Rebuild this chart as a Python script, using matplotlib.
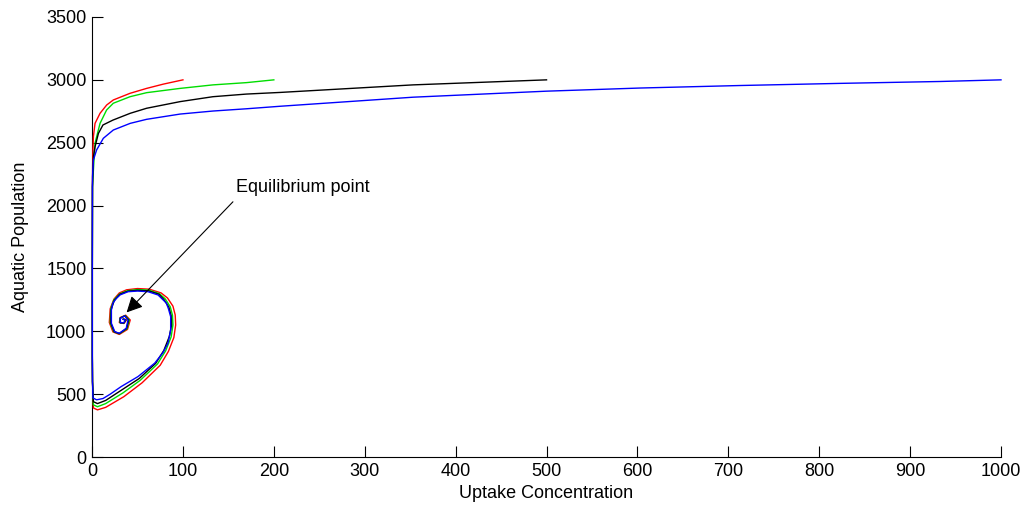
import numpy as np
import matplotlib
matplotlib.use('Agg')
import matplotlib.pyplot as plt

plt.rcParams['font.family'] = ['Liberation Sans', 'DejaVu Sans']

# trajectories, one per starting uptake value
red_x = [100, 78.4, 60, 41.8, 23.4, 16.1, 8.8, 3.3, 1.5, 0.8, 0.4, 0.3, 0.3, 0.5,
         1.5, 6, 15, 35, 55, 75, 84, 90, 92, 91.5, 89, 83, 76, 63, 50, 38, 30, 24, 20, 19, 23,
         30, 39, 42, 37, 31, 30, 35, 38, 35]
red_y = [3000, 2966, 2932, 2893, 2840, 2800, 2734, 2654, 2550, 2400, 2150, 1500, 800, 600,
         390, 375, 395, 480, 590, 730, 840, 950, 1050, 1130, 1200, 1265, 1305, 1335, 1340, 1330, 1305, 1255, 1180, 1070, 995,
         975, 1015, 1090, 1128, 1110, 1070, 1062, 1090, 1100]

green_x = [200, 170, 133, 96.8, 60, 41.8, 23.4, 16, 8.8, 3.3, 1.5, 0.5, 0.3, 0.3, 0.5,
           1.5, 6, 15, 34, 53, 72, 81, 87, 89, 88.5, 86, 80.5, 74, 62, 50, 39, 30.5, 24, 20.5, 20, 24,
           30, 38.5, 41, 36.5, 31, 30.7, 35, 37.3, 34.5]
green_y = [3000, 2978, 2960, 2932, 2898, 2866, 2814, 2760, 2654, 2497, 2283, 2150, 1500, 800, 600,
           415, 400, 425, 510, 610, 740, 845, 955, 1050, 1128, 1196, 1258, 1300, 1328, 1332, 1323, 1298, 1250, 1176, 1066, 996,
           980, 1020, 1090, 1125, 1106, 1069, 1065, 1090, 1097]

black_x = [500, 353, 207, 170, 133, 97, 60, 42, 23, 12, 7, 3.3, 1.5, 0.5, 0.3, 0.3, 0.5,
           1.5, 6, 15, 33, 52, 70, 79, 85, 87.5, 87, 84.5, 79, 73.5, 62, 50, 39.5, 30.5, 24.5, 21, 20.7, 24.5,
           30, 38, 40.3, 36.2, 31, 31, 35, 37, 34.2]
black_y = [3000, 2960, 2900, 2887, 2866, 2827, 2774, 2734, 2680, 2641, 2574, 2468, 2390, 2150, 1500, 800, 600,
           440, 425, 450, 535, 625, 745, 848, 958, 1050, 1124, 1192, 1253, 1295, 1322, 1326, 1319, 1294, 1246, 1173, 1064, 996,
           982, 1022, 1090, 1123, 1105, 1068, 1066, 1090, 1096]

blue_x = [1000, 933, 823, 713, 603, 500, 353, 207, 170, 133, 97, 60, 42, 23.4, 12.4, 5, 1.5, 0.5,
          0.4, 0.3, 0.3, 0.5, 1, 5, 12, 20, 32, 50.6, 69, 78, 83.6, 86.5, 86.5, 84, 81.7, 72.6, 61.6, 50,
          39.6, 31, 26.8, 23, 21.3, 21.3, 25, 30, 37.6, 39.6, 35.9, 31, 31.4, 35, 36.6, 34]
blue_y = [3000, 2987, 2972, 2955, 2935, 2910, 2862, 2790, 2770, 2752, 2728, 2686, 2654, 2601, 2535, 2442, 2363, 2230,
          2150, 1500, 800, 600, 470, 455, 465, 500, 560, 640, 747, 830, 907, 1010, 1116, 1180, 1225, 1289, 1315, 1320,
          1315, 1290, 1262, 1225, 1170, 1063, 997, 984, 1024, 1090, 1122, 1103, 1068, 1068, 1090, 1095]

curves = [(red_x, red_y, 'r'), (green_x, green_y, '#00dd00'),
          (black_x, black_y, 'k'), (blue_x, blue_y, 'b')]

fig = plt.figure(figsize=(10.25, 5.15), dpi=100)
ax = fig.add_axes([0.0898, 0.1126, 0.8868, 0.8544])

for xs, ys, c in curves:
    ax.plot(xs, ys, color=c, lw=1.0, clip_on=False, zorder=3)

ax.set_xlim(0, 1000)
ax.set_ylim(0, 3500)
ax.set_xticks(np.arange(0, 1001, 100))
ax.set_yticks(np.arange(0, 3501, 500))
ax.spines['top'].set_visible(False)
ax.spines['right'].set_visible(False)
ax.tick_params(direction='in', length=8, width=0.8, labelsize=13, pad=4)
ax.set_xlabel('Uptake Concentration', fontsize=13, labelpad=4)
ax.set_ylabel('Aquatic Population', fontsize=13, labelpad=12)

ax.annotate('', xy=(38, 1150), xytext=(155, 2030),
            arrowprops=dict(arrowstyle='-|>', color='k', lw=0.8,
                            mutation_scale=24, shrinkA=0, shrinkB=0))
ax.text(158, 2140, 'Equilibrium point', fontsize=13, ha='left', va='center')

fig.savefig('out.png', dpi=100)
